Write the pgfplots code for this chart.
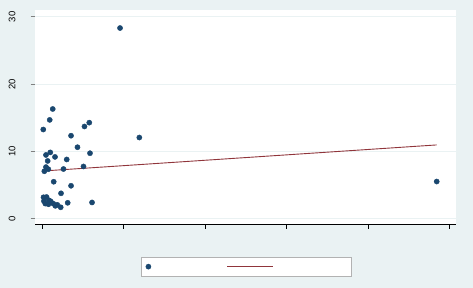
\documentclass[border=0pt]{standalone}
\usepackage{pgfplots}
\pgfplotsset{compat=1.18}
\usepackage{fontspec}
\setmainfont{Liberation Sans}
\definecolor{bg}{RGB}{234,242,243}
\definecolor{navy}{RGB}{26,71,111}
\definecolor{maroon}{RGB}{144,53,59}
\pgfplotsset{
  scatleg/.style={legend image code/.code={\path (0bp,-9.3bp) (84bp,9.3bp); \draw[##1] plot coordinates {(7bp,0bp)};}},
  lineleg/.style={legend image code/.code={\path (0bp,-9.3bp) (123bp,9.3bp); \draw[##1] (0bp,0bp) -- (46bp,0bp);}},
}
\begin{document}
\begin{tikzpicture}
\fill[bg] (0,0) rectangle (473bp,288bp);
\useasboundingbox (0,0) rectangle (473bp,288bp);
\begin{axis}[
  at={(35bp,64bp)}, anchor=south west,
  scale only axis, width=421bp, height=214bp,
  xmin=-0.0897, xmax=5.082, ymin=-0.8, ymax=31,
  axis background/.style={fill=white},
  axis lines*=left,
  x axis line style={-, black, line width=0.8bp},
  y axis line style={draw=none},
  xtick={0,1,2,3,4,5}, xticklabels={},
  ytick={0,10,20,30},
  tick align=outside,
  major tick length=4.5bp,
  xtick style={black, line width=0.8bp},
  ytick style={gray, line width=0.6bp},
  ymajorgrids,
  major grid style={color=bg, line width=0.9bp},
  yticklabel style={rotate=90, anchor=center, inner sep=0pt, yshift=18.5bp, font=\fontsize{9.5bp}{10bp}\selectfont},
  /pgf/number format/assume math mode=true,
  legend columns=2,
  legend style={at={(0.2518,0)}, anchor=north west, yshift=-32.7bp,
    draw=gray!60, fill=white, inner sep=0pt,
    nodes={inner sep=0pt},
    /tikz/every even column/.style={column sep=0pt}},
]
\addplot[only marks, mark=*, mark size=2.6bp, color=navy, mark options={fill=navy, draw=navy}, scatleg]
coordinates {
(0.955,28.32) (4.845,5.51) (0.128,16.29) (0.091,14.67) (0.012,13.24)
(0.518,13.69) (0.577,14.26) (0.353,12.32) (1.192,12.05) (0.432,10.61)
(0.586,9.72) (0.098,9.84) (0.045,9.46) (0.156,9.17) (0.300,8.79)
(0.066,8.57) (0.045,7.66) (0.074,7.34) (0.025,7.04) (0.260,7.37)
(0.506,7.75) (0.140,5.48) (0.353,4.88) (0.230,3.76) (0.015,3.17)
(0.052,3.21) (0.082,2.72) (0.103,2.57) (0.037,2.23) (0.076,2.13)
(0.135,2.23) (0.184,2.05) (0.226,1.68) (0.312,2.35) (0.611,2.40)
(0.020,2.60) (0.160,1.90)
};
\addlegendentry{}
\addplot[maroon, line width=0.9bp, lineleg]
coordinates {(0.012,7.08) (4.845,10.95)};
\addlegendentry{}
\end{axis}
\end{tikzpicture}
\end{document}
